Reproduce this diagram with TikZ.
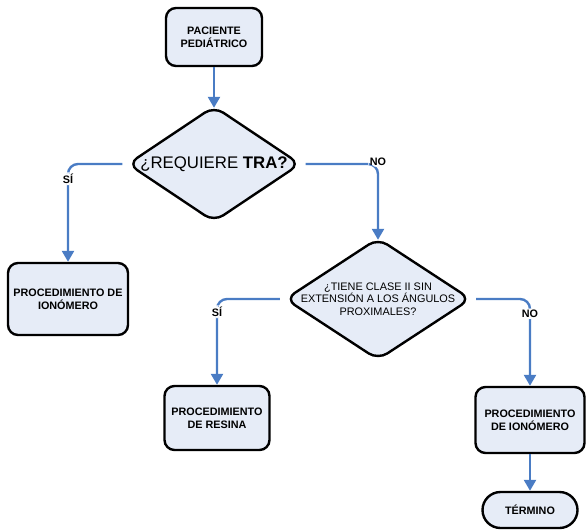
\documentclass[tikz,border=0pt]{standalone}
\usepackage{fontspec}
\setmainfont{Liberation Sans}
\usetikzlibrary{arrows.meta,shapes.geometric}
\definecolor{conblue}{HTML}{4A7CC4}
\definecolor{boxfill}{HTML}{E6ECF7}
\begin{document}
\begin{tikzpicture}[x=1pt,y=-1pt,
  box/.style={draw=black, line width=2.4pt, fill=boxfill, rounded corners=10pt, inner sep=0pt, align=center,
    font=\fontsize{10.8}{12.7}\selectfont\bfseries},
  dia/.style={draw=black, line width=2.4pt, fill=boxfill, diamond, rounded corners=11pt, inner sep=0pt},
  conn/.style={draw=conblue, line width=2.4pt, rounded corners=10pt, -{Triangle[width=12pt,length=11pt]}},
  lbl/.style={fill=white, inner sep=1.5pt, font=\fontsize{10.8}{12}\selectfont\bfseries}
]
\useasboundingbox (0,0) rectangle (586,530);
% nodes
\node[box, minimum width=96pt, minimum height=58pt] (b1) at (214,37) {PACIENTE\\PEDIÁTRICO};
\node[dia, minimum width=173pt, minimum height=116pt] (d1) at (214,164) {};
\node[font=\fontsize{16.8}{19}\selectfont] (t1) at (214,164) {¿REQUIERE \textbf{TRA?}};
\node[box, minimum width=120pt, minimum height=72pt] (b2) at (68,299) {PROCEDIMIENTO DE\\IONÓMERO};
\node[dia, minimum width=186pt, minimum height=122pt] (d2) at (378,299) {};
\node[align=center, font=\fontsize{10.9}{12.5}\selectfont] (t2) at (378,299) {¿TIENE CLASE II SIN\\EXTENSIÓN A LOS ÁNGULOS\\PROXIMALES?};
\node[box, minimum width=105pt, minimum height=64pt] (b3) at (217,418) {PROCEDIMIENTO\\DE RESINA};
\node[box, minimum width=109pt, minimum height=66pt] (b4) at (530,420) {PROCEDIMIENTO\\DE IONÓMERO};
\node[box, rounded corners=18pt, minimum width=95pt, minimum height=36pt] (b5) at (530,510) {TÉRMINO};
% connectors
\draw[conn, shorten >=-3pt] (b1.south) -- (d1.north);
\draw[conn, shorten <=4pt] (d1.west) -| node[lbl, pos=0.575] {SÍ} (b2.north);
\draw[conn, shorten <=4pt, shorten >=-3pt] (d1.east) -| node[lbl, pos=0.5, yshift=2pt] {NO} (d2.north);
\draw[conn, shorten <=4pt] (d2.west) -| node[lbl, pos=0.574] {SÍ} (b3.north);
\draw[conn, shorten <=4pt] (d2.east) -| node[lbl, pos=0.585] {NO} (b4.north);
\draw[conn] (b4.south) -- (b5.north);
\end{tikzpicture}
\end{document}
